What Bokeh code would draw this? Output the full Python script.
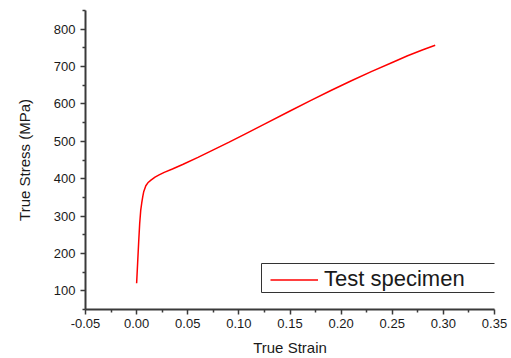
from bokeh.plotting import figure
from bokeh.models import Range1d, FixedTicker, Legend, LegendItem, BoxAnnotation
from bokeh.embed import file_html
from bokeh.resources import INLINE

# True stress-strain curve of the tensile test specimen
strain = [0.0, 0.001, 0.002, 0.003, 0.004, 0.005, 0.006, 0.007, 0.009, 0.011,
          0.014, 0.018, 0.022, 0.027, 0.035, 0.045, 0.06, 0.075, 0.09, 0.105,
          0.125, 0.15, 0.17, 0.19, 0.21, 0.23, 0.25, 0.265, 0.28, 0.292]
stress = [120, 175, 230, 280, 315, 335, 352, 366, 381, 389,
          396, 404, 410, 417, 426, 438, 457, 477, 497, 518,
          546, 581, 609, 636, 662, 687, 711, 729, 745, 757]

x_ticks = [-0.05, 0.0, 0.05, 0.10, 0.15, 0.20, 0.25, 0.30, 0.35]
x_tick_labels = ["-0.05", "0.00", "0.05", "0.10", "0.15", "0.20", "0.25", "0.30", "0.35"]
y_ticks = [100, 200, 300, 400, 500, 600, 700, 800]

FONT = "Liberation Sans"
AXIS_COLOR = "#3a3a3a"

p = figure(width=511, height=358, output_backend="svg", toolbar_location=None,
           x_range=Range1d(-0.05, 0.35), y_range=Range1d(50, 850),
           min_border_left=85, min_border_right=17, min_border_top=10,
           min_border_bottom=48, outline_line_color=None)
p.grid.visible = False
p.background_fill_color = "white"
p.border_fill_color = "white"

r = p.line(strain, stress, line_color="#ff0000", line_width=1.5)

p.xaxis.ticker = FixedTicker(ticks=x_ticks,
                             minor_ticks=[-0.025, 0.025, 0.075, 0.125, 0.175, 0.225, 0.275, 0.325])
p.xaxis.major_label_overrides = {t: s for t, s in zip(x_ticks, x_tick_labels)}
p.yaxis.ticker = FixedTicker(ticks=y_ticks,
                             minor_ticks=[50, 150, 250, 350, 450, 550, 650, 750, 850])

for ax in (p.xaxis, p.yaxis):
    ax.axis_line_color = AXIS_COLOR
    ax.axis_line_width = 2
    ax.major_tick_line_color = AXIS_COLOR
    ax.minor_tick_line_color = AXIS_COLOR
    ax.major_tick_line_width = 1.5
    ax.minor_tick_line_width = 1.5
    ax.major_tick_in = 0
    ax.minor_tick_in = 0
    ax.major_tick_out = 5
    ax.minor_tick_out = 3
    ax.major_label_text_font = FONT
    ax.major_label_text_font_size = "13px"
    ax.major_label_text_color = "#1a1a1a"
    ax.axis_label_text_font = FONT
    ax.axis_label_text_font_size = "15px"
    ax.axis_label_text_font_style = "normal"
    ax.axis_label_text_color = "#1a1a1a"

p.xaxis.axis_label = "True Strain"
p.yaxis.axis_label = "True Stress (MPa)"
p.xaxis.major_label_standoff = 4
p.xaxis.axis_label_standoff = 8
p.yaxis.major_label_standoff = 5
p.yaxis.axis_label_standoff = 18

# Legend frame: a wide, flat box in the lower right (frame-relative pixels)
legend_frame = BoxAnnotation(left=176, right=410, bottom=17, top=46,
                             left_units="screen", right_units="screen",
                             bottom_units="screen", top_units="screen",
                             fill_color="white", fill_alpha=1,
                             line_color="#333333", line_width=1, line_alpha=1)
p.add_layout(legend_frame)

legend = Legend(items=[LegendItem(label="Test specimen", renderers=[r])],
                location=(185, 17),
                label_text_font=FONT, label_text_font_size="22px",
                label_text_color="#1a1a1a",
                border_line_color=None, background_fill_alpha=0,
                glyph_width=48, glyph_height=9, label_height=9,
                label_standoff=6, padding=1, margin=0, spacing=0)
p.add_layout(legend)

open("out.html", "w").write(file_html(p, INLINE))
